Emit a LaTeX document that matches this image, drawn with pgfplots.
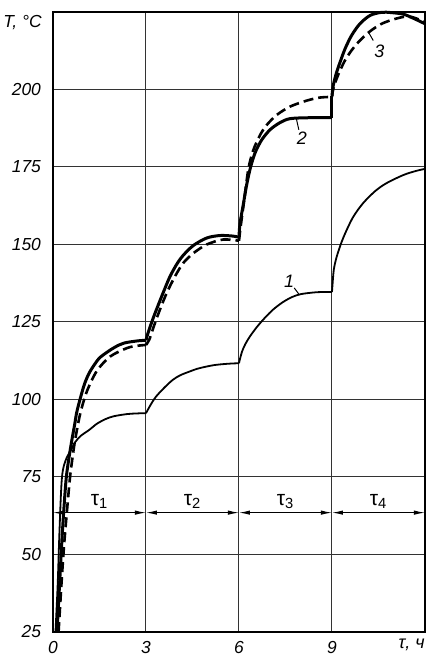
\documentclass[border=0pt]{standalone}
\usepackage{fontspec}
\setmainfont{Liberation Sans}
\usepackage{pgfplots}
\pgfplotsset{compat=1.18}
\usetikzlibrary{arrows.meta}
\begin{document}
\begin{tikzpicture}
\begin{axis}[
  scale only axis, width=186pt, height=310pt,
  at={(0,0)}, anchor=south west,
  xmin=0, xmax=12, ymin=25, ymax=225,
  xtick={0,3,6,9}, ytick={25,50,75,100,125,150,175,200},
  grid=major, major grid style={black!80, line width=0.5pt},
  axis line style={line width=1pt},
  major tick length=0pt,
  tick label style={font=\fontsize{8.7}{10}\selectfont\itshape},
  /pgf/number format/assume math mode=true,
  xticklabel style={yshift=-1pt},
  yticklabel style={xshift=-2.5pt},
  clip=false,
]
% curve 1
\addplot[black, line width=0.9pt, smooth, tension=0.5] coordinates {(0.08,25) (0.15,40) (0.2,55) (0.25,68) (0.29,75) (0.35,78.6) (0.45,81.4) (0.57,83.5) (0.72,86.3) (0.9,88.3) (1.17,90.2) (1.42,92.2) (1.7,93.7) (1.96,94.6) (2.39,95.3) (2.7,95.5) (3,95.6)};
\addplot[black, line width=0.9pt, smooth, tension=0.5] coordinates {(3,95.6) (3.15,98.3) (3.32,100.9) (3.6,103.9) (3.86,106.3) (4.1,107.8) (4.4,109) (4.65,109.9) (4.94,110.6) (5.2,111.1) (5.48,111.4) (5.75,111.6) (6,111.7)};
\addplot[black, line width=0.9pt, smooth, tension=0.5] coordinates {(6,111.7) (6.03,113) (6.1,115.5) (6.2,117.8) (6.35,120.3) (6.57,123.3) (6.83,126.3) (7.1,129) (7.4,131.3) (7.7,133) (8.0,134) (8.5,134.6) (9,134.7)};
\addplot[black, line width=0.9pt, smooth, tension=0.5] coordinates {(9,134.7) (9.02,137.5) (9.06,142) (9.15,146) (9.31,150.8) (9.47,154.6) (9.69,159) (10.0,163.3) (10.39,167.2) (10.76,169.8) (11.3,172.4) (11.7,173.7) (12,174.4)};
% curve 2
\addplot[black, line width=1.5pt, smooth, tension=0.5] coordinates {(0.13,25) (0.21,40) (0.29,55) (0.36,66) (0.43,75) (0.52,81.5) (0.61,87) (0.7,92) (0.78,96.5) (0.99,104.2) (1.15,108.2) (1.32,111) (1.5,113.4) (1.75,115.3) (2.0,116.9) (2.29,118.2) (2.72,118.9) (3,119.1)};
\addplot[black, line width=1.5pt, smooth, tension=0.5] coordinates {(3,119.1) (3.07,121.6) (3.23,126.2) (3.4,130.6) (3.56,134.6) (3.77,139.6) (3.99,143.6) (4.2,146.5) (4.53,149.7) (4.96,152.1) (5.39,152.9) (5.82,152.7) (6,152.3)};
\addplot[black, line width=1.5pt, smooth, tension=0.5] coordinates {(6,152.3) (6.03,156.6) (6.14,163) (6.25,169.4) (6.37,174.8) (6.52,179.6) (6.73,183.7) (7.0,187) (7.32,189.3) (7.65,190.6) (8.29,190.9) (9,190.9)};
\addplot[black, line width=1.5pt] coordinates {(9,190.9) (9,198)};
\addplot[black, line width=1.5pt, smooth, tension=0.5] coordinates {(9,198) (9.04,201.3) (9.15,205.6) (9.26,208.8) (9.42,213.1) (9.63,217.4) (9.9,221.2) (10.23,223.9) (10.6,224.9) (10.92,224.8) (11.3,224.3) (11.62,223) (12,221.2)};
% curve 3 (dashed)
\addplot[black, line width=1.3pt, dash pattern=on 5pt off 2.5pt, smooth, tension=0.5] coordinates {(0.18,25) (0.27,40) (0.35,52) (0.45,64) (0.55,75) (0.64,82) (0.72,87.3) (0.88,95.5) (1.1,102.8) (1.42,109.3) (1.85,113.9) (2.39,116.6) (2.7,117.3) (3,117.6)};
\addplot[black, line width=1.3pt, dash pattern=on 5pt off 2.5pt, smooth, tension=0.5] coordinates {(3,117.6) (3.11,119.4) (3.27,124.1) (3.45,129) (3.67,134.4) (3.94,139.8) (4.2,144) (4.53,147.2) (4.96,150) (5.49,151.6) (6,151.2)};
\addplot[black, line width=1.3pt, dash pattern=on 5pt off 2.5pt, smooth, tension=0.5] coordinates {(6,151.2) (6.05,155.5) (6.15,163) (6.3,174.2) (6.46,180.4) (6.68,185.3) (6.89,188.5) (7.22,191.8) (7.65,194.5) (8.18,196.4) (8.61,197.4) (9,197.6)};
\addplot[black, line width=1.3pt, dash pattern=on 5pt off 2.5pt, smooth, tension=0.5] coordinates {(9,197.6) (9.04,200.2) (9.15,203.5) (9.26,206.1) (9.42,209.4) (9.63,212.6) (9.9,215.8) (10.23,218.8) (10.6,221.2) (10.98,222.6) (11.3,223.4) (11.57,223.4) (11.8,222.6) (12,221.8)};
% period arrows
\addplot[black, line width=0.5pt, arrows={Latex[length=5.5pt,width=2.2pt]-Latex[length=5.5pt,width=2.2pt]}] coordinates {(0,63.5) (3,63.5)};
\addplot[black, line width=0.5pt, arrows={Latex[length=5.5pt,width=2.2pt]-Latex[length=5.5pt,width=2.2pt]}] coordinates {(3,63.5) (6,63.5)};
\addplot[black, line width=0.5pt, arrows={Latex[length=5.5pt,width=2.2pt]-Latex[length=5.5pt,width=2.2pt]}] coordinates {(6,63.5) (9,63.5)};
\addplot[black, line width=0.5pt, arrows={Latex[length=5.5pt,width=2.2pt]-Latex[length=5.5pt,width=2.2pt]}] coordinates {(9,63.5) (12,63.5)};
\node[font=\fontsize{10.5}{12}\selectfont] at (axis cs:1.5,67.2) {τ\textsubscript{1}};
\node[font=\fontsize{10.5}{12}\selectfont] at (axis cs:4.5,67.2) {τ\textsubscript{2}};
\node[font=\fontsize{10.5}{12}\selectfont] at (axis cs:7.5,67.2) {τ\textsubscript{3}};
\node[font=\fontsize{10.5}{12}\selectfont] at (axis cs:10.5,67.2) {τ\textsubscript{4}};
% curve labels
\draw[black, line width=0.5pt] (axis cs:7.93,134) -- (axis cs:7.78,136);
\node[font=\fontsize{9}{10}\selectfont\itshape] at (axis cs:7.62,138.2) {1};
\draw[black, line width=0.5pt] (axis cs:7.85,190.6) -- (axis cs:7.93,187);
\node[font=\fontsize{9}{10}\selectfont\itshape] at (axis cs:8.03,184.2) {2};
\draw[black, line width=0.5pt] (axis cs:10.17,218.6) -- (axis cs:10.33,215.8);
\node[font=\fontsize{9}{10}\selectfont\itshape] at (axis cs:10.53,212.3) {3};
% axis titles
\node[font=\fontsize{8.7}{10}\selectfont\itshape, anchor=north east, inner sep=0pt] at ([xshift=-5.5pt,yshift=-1.5pt]rel axis cs:0,1) {T, °C};
\node[font=\fontsize{9}{10}\selectfont\itshape, anchor=north east, inner sep=0pt] at ([xshift=0pt,yshift=-3.5pt]rel axis cs:1,0) {τ, ч};
\end{axis}
\path (-26.5pt,-16pt) rectangle (193.5pt,316pt);
\end{tikzpicture}
\end{document}
